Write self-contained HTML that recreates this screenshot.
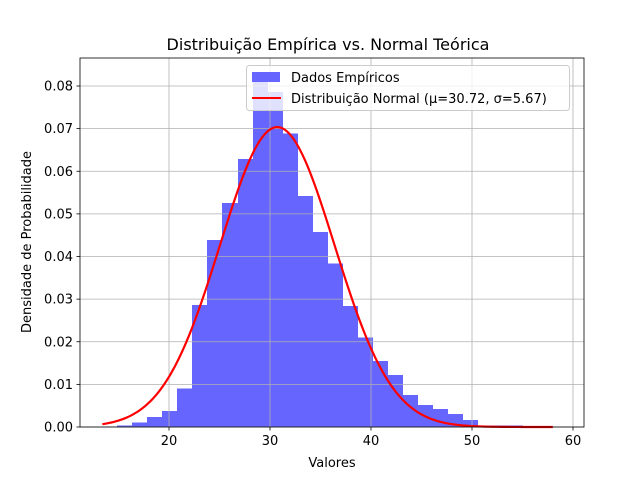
<!DOCTYPE html>
<html><head><meta charset="utf-8"><style>
body{margin:0;background:#fff}
svg{display:block;font-family:"DejaVu Sans","Liberation Sans",sans-serif}
</style></head><body>
<svg id="chart" width="640" height="480" xmlns="http://www.w3.org/2000/svg"></svg>
<script>
const binStart = 13.4;
const binWidth = 1.487;
const densities = [0.0001,0.0003,0.001,0.0024,0.0038,0.009,0.0286,0.0439,0.0525,0.0629,0.0826,0.0786,0.0688,0.0542,0.0458,0.0383,0.0284,0.021,0.0155,0.0122,0.0075,0.0052,0.0042,0.003,0.0016,0.0003,0.0003,0.0003,0.0001,0.0001];
const mu = 30.72, sigma = 5.67;
const curveRange = [13.4, 58];
const xTicks = [20,30,40,50,60];
const yTicks = [0,0.01,0.02,0.03,0.04,0.05,0.06,0.07,0.08];

const L=80,R=584,T=58,B=427;
const x = v => 169 + (v-20)*10.1;
const y = v => B - v*4262.5;
const NS="http://www.w3.org/2000/svg";
const svg=document.getElementById('chart');
function mk(tag,attrs,parent){const e=document.createElementNS(NS,tag);for(const k in attrs)e.setAttribute(k,attrs[k]);(parent||svg).appendChild(e);return e;}

// bars
const barGroup=mk('g',{'fill':'#6666ff','shape-rendering':'crispEdges'});


densities.forEach((d,i)=>{const x0=Math.round(x(binStart+i*binWidth)),x1=Math.round(x(binStart+(i+1)*binWidth));
const r=mk('rect',{x:x0,y:y(d),width:x1-x0,height:B-y(d)},barGroup);

});

// grid (on top of bars, as in matplotlib)
xTicks.forEach(t=>{const g=mk('line',{x1:x(t),x2:x(t),y1:T,y2:B,stroke:'#b0b0b0','stroke-width':0.8});

});
yTicks.forEach(t=>{const g=mk('line',{x1:L,x2:R,y1:y(t),y2:y(t),stroke:'#b0b0b0','stroke-width':0.8});

});

// normal curve
let pts=[];
for(let i=0;i<=200;i++){const v=curveRange[0]+(curveRange[1]-curveRange[0])*i/200;
const p=Math.exp(-0.5*((v-mu)/sigma)**2)/(sigma*Math.sqrt(2*Math.PI));pts.push(x(v).toFixed(2)+','+y(p).toFixed(2));}
const c=mk('polyline',{points:pts.join(' '),fill:'none',stroke:'#ff0000','stroke-width':2.2});



// axes frame
const f=mk('rect',{x:L,y:T,width:R-L,height:B-T,fill:'none',stroke:'#000','stroke-width':0.8});



xTicks.forEach(t=>{mk('line',{x1:x(t),x2:x(t),y1:B,y2:B+3.5,stroke:'#000','stroke-width':0.8});
const tx=mk('text',{x:x(t),y:B+18,'text-anchor':'middle','font-size':13});tx.textContent=t;

});
yTicks.forEach(t=>{mk('line',{x1:L-3.5,x2:L,y1:y(t),y2:y(t),stroke:'#000','stroke-width':0.8});
const tx=mk('text',{x:L-7,y:y(t)+4.5,'text-anchor':'end','font-size':13});tx.textContent=t.toFixed(2);

});
</script>
<svg width="640" height="480" style="position:absolute;left:0;top:0" xmlns="http://www.w3.org/2000/svg" font-family="DejaVu Sans, Liberation Sans, sans-serif">
<text x="328" y="50" text-anchor="middle" font-size="16">Distribuição Empírica vs. Normal Teórica</text>
<text x="332" y="467" text-anchor="middle" font-size="13">Valores</text>
<text transform="translate(31,242) rotate(-90)" text-anchor="middle" font-size="13">Densidade de Probabilidade</text>
<g>
<rect x="246.5" y="65.5" width="323" height="45" rx="3" fill="#fff" fill-opacity="0.8" stroke="#ccc"/>
<rect x="252" y="72" width="28" height="10" fill="#6666ff"/>
<text x="291" y="82" font-size="13">Dados Empíricos</text>
<line x1="252" x2="281" y1="98" y2="98" stroke="#ff0000" stroke-width="2"/>
<text x="291" y="103" font-size="13">Distribuição Normal (μ=30.72, σ=5.67)</text>
</g>
</svg>
</body></html>
